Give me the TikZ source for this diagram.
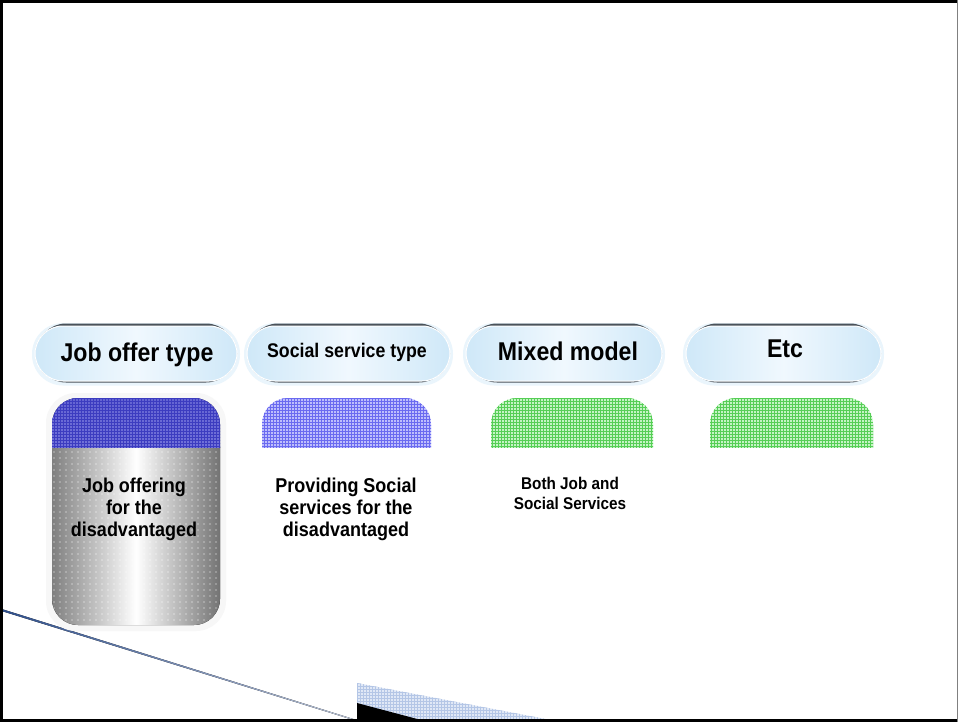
\documentclass[tikz,border=0pt]{standalone}
\usepackage{fontspec}
\setmainfont{Liberation Sans}[FakeStretch=0.9]
\usetikzlibrary{patterns}
\usetikzlibrary{patterns.meta}
\definecolor{pillblue}{HTML}{CFE8F8}
\definecolor{pillwhite}{HTML}{F0F8FE}
\definecolor{pillhalo}{HTML}{EAF5FC}
\definecolor{rimgray}{HTML}{4A525A}
\definecolor{gridblue}{HTML}{6A6AF0}
\definecolor{cellblue}{HTML}{BEBEFC}
\definecolor{darkgrid}{HTML}{3C3CC0}
\definecolor{darktop}{HTML}{6464D2}
\definecolor{darkcell}{HTML}{A0A0F0}
\definecolor{gridgreen}{HTML}{56CE56}
\definecolor{cellgreen}{HTML}{C4F4C4}
\definecolor{linkblue}{HTML}{2E4E8A}
\definecolor{floorblue}{HTML}{E0E8F6}
\definecolor{floorgrid}{HTML}{B4C6E6}

\begin{document}
\begin{tikzpicture}[x=1pt, y=-1pt,
	halo/.style = {fill=pillhalo, rounded corners=31pt},
	rim/.style = {fill=rimgray, rounded corners=29pt},
	pill/.style = {draw=white, line width=1pt, left color=pillblue, right color=pillblue, middle color=pillwhite, rounded corners=28pt},
	bluecap/.style = {fill=cellblue, postaction={pattern=grid, pattern color=gridblue}, rounded corners=26pt},
	greencap/.style = {fill=cellgreen, postaction={pattern=grid, pattern color=gridgreen}, rounded corners=26pt},
	head/.style = {anchor=base, inner sep=0pt, font=\bfseries\fontsize{25.7}{30}\selectfont},
	main/.style = {anchor=north, inner sep=0pt, align=center, font=\bfseries\fontsize{20}{22}\selectfont}]
	\useasboundingbox (0,0) rectangle (958,722);
	\fill[white] (0,0) rectangle (958,722);
	% header pills
	\fill[halo] (32,323) rectangle (240,385.5);
	\fill[rim] (37,323.5) rectangle (235,382.5);
	\fill[pill] (35,326) rectangle (237,381);
	\fill[halo] (244,323) rectangle (453,385.5);
	\fill[rim] (249,323.5) rectangle (448,382.5);
	\fill[pill] (247,326) rectangle (450,381);
	\fill[halo] (463,323) rectangle (665,385.5);
	\fill[rim] (468,323.5) rectangle (660,382.5);
	\fill[pill] (466,326) rectangle (662,381);
	\fill[halo] (683,323) rectangle (884,385.5);
	\fill[rim] (688,323.5) rectangle (879,382.5);
	\fill[pill] (686,326) rectangle (881,381);
	\node[head] (1) at (137,361) {Job offer type};
	\node[head, font=\bfseries\fontsize{19.7}{24}\selectfont] (2) at (347,357) {Social service type};
	\node[head] (3) at (568,360) {Mixed model};
	\node[head] (4) at (785,357) {Etc};
	% slanted line and floor
	\fill[left color=linkblue, right color=linkblue!30!white] (0,608.5) -- (355,719.5) -- (355,720.5) -- (0,610.5) -- cycle;
	\fill[floorblue, postaction={pattern=grid, pattern color=floorgrid}] (357,683) -- (551,720) -- (357,720) -- cycle;
	\fill[black] (357,703) -- (421,720) -- (357,720) -- cycle;
	% tall gray column
	\fill[black!3, rounded corners=30pt] (46,393) rectangle (226,631);
	\begin{scope}
		\clip (40,447) rectangle (230,640);
		\fill[left color=black!50, right color=black!55, middle color=white, rounded corners=26pt] (52,398) rectangle (220,625);
		\fill[pattern={Dots[distance=6pt, radius=0.6pt]}, pattern color=white, rounded corners=26pt] (52,398) rectangle (220,625);
	\end{scope}
	\begin{scope}
		\clip (40,390) rectangle (230,447);
		\fill[top color=darktop, bottom color=darkcell, postaction={pattern=grid, pattern color=darkgrid}, rounded corners=26pt] (52,398) rectangle (220,625);
	\end{scope}
	% caps
	\begin{scope}
		\clip (250,390) rectangle (900,447);
		\fill[bluecap] (262,398) rectangle (431,480);
		\fill[greencap] (491,398) rectangle (653,480);
		\fill[greencap] (710,398) rectangle (873,480);
	\end{scope}
	\node[main] (5) at (134,478) {Job offering\\for the\\disadvantaged};
	\node[main] (6) at (346,478) {Providing Social\\services for the\\disadvantaged};
	\node[main, font=\bfseries\fontsize{17}{20}\selectfont] (7) at (570,476.5) {Both Job and\\Social Services};
	% frame
	\fill[black] (0,0) rectangle (958,3.5);
	\fill[black] (0,0) rectangle (3,722);
	\fill[black] (0,718.5) rectangle (958,722);
	\fill[gray] (956.5,0) rectangle (958,722);
\end{tikzpicture}
\end{document}
